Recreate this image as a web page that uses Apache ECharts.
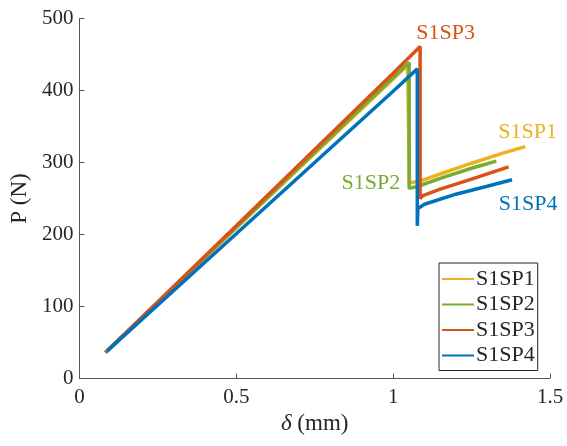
<!DOCTYPE html>
<html><head><meta charset="utf-8">
<script src="https://cdn.jsdelivr.net/npm/echarts@6/dist/echarts.min.js"></script>
<style>html,body{margin:0;padding:0;background:#fff}#c{width:567px;height:446px}</style>
</head><body><div id="c"></div>
<script>
const seriesNames = ['S1SP1','S1SP2','S1SP3','S1SP4'];
const colors = ['#EDB120','#77AC30','#D95319','#0072BD'];
const x1 = [0.083, 0.5, 1.0, 1.046, 1.052, 1.085, 1.15, 1.25, 1.35, 1.421];
const y1 = [36, 209, 416, 435, 272, 274, 284, 299, 313, 322];
const x2 = [0.083, 0.5, 1.0, 1.051, 1.051, 1.08, 1.15, 1.25, 1.329];
const y2 = [36, 210, 418, 439, 264, 267, 278, 292, 302];
const x3 = [0.083, 0.5, 1.0, 1.086, 1.086, 1.095, 1.15, 1.25, 1.368];
const y3 = [36, 212, 424, 461, 250, 254, 263, 277, 294];
const x4 = [0.088, 0.5, 1.0, 1.077, 1.077, 1.079, 1.1, 1.2, 1.3, 1.379];
const y4 = [38, 201, 399, 430, 212, 236, 242, 256, 267, 276];
const xTicks = [0, 0.5, 1, 1.5];
const yTicks = [0, 100, 200, 300, 400, 500];
// annotation labels in data coordinates
const labelNames = ['S1SP1','S1SP2','S1SP3','S1SP4'];
const labelX = [1.429, 0.929, 1.167, 1.430];
const labelY = [343.5, 272.9, 481, 243.8];

const font = 'Liberation Serif';
const xs = [x1,x2,x3,x4], ys=[y1,y2,y3,y4];
const chart = echarts.init(document.getElementById('c'));
const series = seriesNames.map((n,i)=>({
  name:n, type:'line', showSymbol:false, symbol:'none', animation:false,
  lineStyle:{color:colors[i], width:3.5}, itemStyle:{color:colors[i]},
  data: xs[i].map((v,k)=>[v, ys[i][k]])
}));
chart.setOption({
  animation:false,
  grid:{left:77.3, right:17, top:18.5, bottom:67.5},
  xAxis:{type:'value', min:0, max:1.5, interval:0.5,
    axisLine:{show:true, lineStyle:{color:'#555', width:1}},
    axisTick:{show:true, inside:true, length:5, lineStyle:{color:'#555'}},
    splitLine:{show:false},
    axisLabel:{color:'#262626', fontFamily:font, fontSize:21, margin:8,
      formatter:v=>String(v)},
    name:'{i|δ} (mm)', nameLocation:'middle', nameGap:34,
    nameTextStyle:{color:'#262626', fontFamily:font, fontSize:23,
      rich:{i:{fontStyle:'italic', fontFamily:font, fontSize:23, color:'#262626'}}}
  },
  yAxis:{type:'value', min:0, max:500, interval:100,
    axisLine:{show:true, lineStyle:{color:'#555', width:1}},
    axisTick:{show:true, inside:true, length:5, lineStyle:{color:'#555'}},
    splitLine:{show:false},
    axisLabel:{color:'#262626', fontFamily:font, fontSize:21, margin:6},
    name:'P (N)', nameLocation:'middle', nameGap:46, nameRotate:90,
    nameTextStyle:{color:'#262626', fontFamily:font, fontSize:23}
  },
  legend:{orient:'vertical', left:439, top:263, data:seriesNames,
    icon:'rect', itemWidth:32, itemHeight:2, itemGap:3.5,
    padding:[5,3,4,3], backgroundColor:'#fff', borderColor:'#262626', borderWidth:1,
    borderRadius:0,
    textStyle:{fontFamily:font, fontSize:22, color:'#262626', lineHeight:22, padding:[0,0,0,-3]}},
  series: series
});
const g = labelNames.map((t,i)=>{
  const p = chart.convertToPixel({gridIndex:0},[labelX[i],labelY[i]]);
  return {type:'text', x:p[0], y:p[1]+1, silent:true,
    style:{text:t, fill:colors[i], font:'22px "'+font+'"', align:'center', verticalAlign:'middle'}};
});
chart.setOption({graphic:g});
</script></body></html>
